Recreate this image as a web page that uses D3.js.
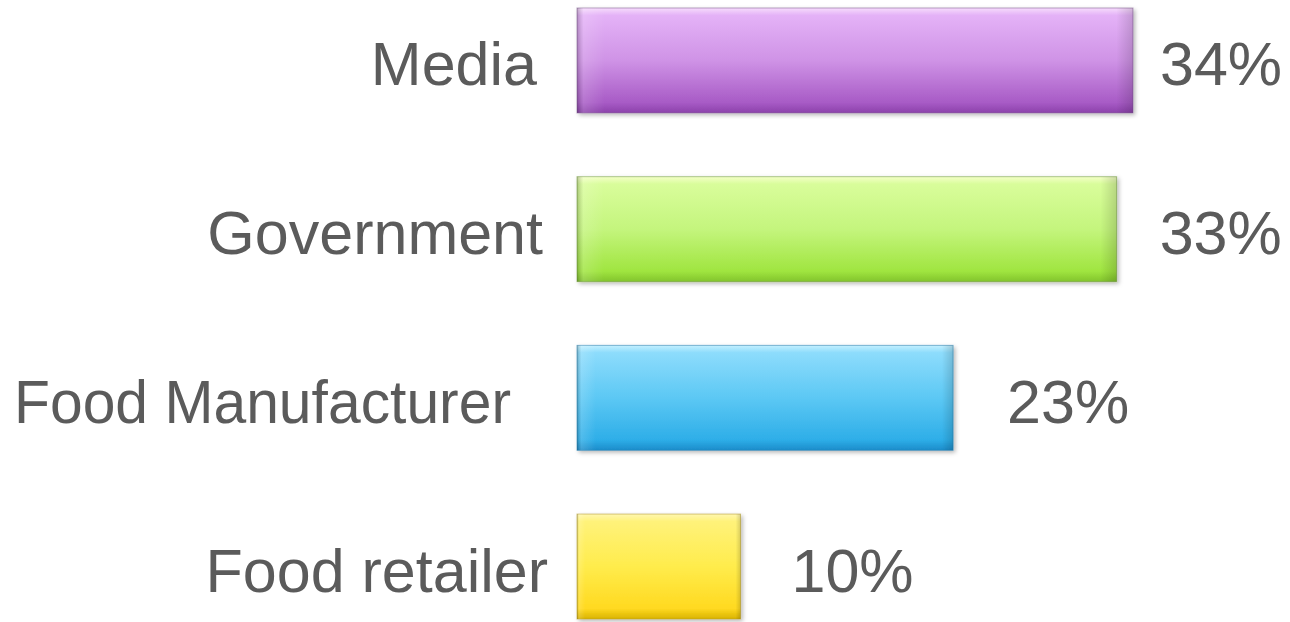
<!DOCTYPE html>
<html>
<head>
<meta charset="utf-8">
<script src="https://cdn.jsdelivr.net/npm/d3@7"></script>
<style>
  html, body { margin: 0; padding: 0; background: #ffffff; }
  svg { display: block; }
</style>
</head>
<body>
<svg id="chart" width="1290" height="622"></svg>
<script>
// Share of respondents by source
const categories = ["Media", "Government", "Food Manufacturer", "Food retailer"];
const values = [34, 33, 23, 10];
const valueLabels = ["34%", "33%", "23%", "10%"];

// Gradient stops per bar (top highlight → bottom shade)
const palettes = [
  ["#f6dcfc", "#e4b2f7", "#cf93e6", "#a85bc6", "#8c42ab"],
  ["#f4ffc8", "#d9fd9b", "#c4f57d", "#a0e540", "#82c42c"],
  ["#c4f0ff", "#8ddcfc", "#5cc8f4", "#2eaee8", "#1c8cca"],
  ["#fff7b0", "#fff27a", "#ffec4c", "#ffd920", "#d9b300"]
];
const edgeColors = ["#7d5a8e", "#6f9a3a", "#2a7fae", "#b39a2a"];

// Label placement (layout only)
const catLabelRight = [537, 543, 511, 548];
const catLabelFit = [0, 0, 497, 0];      // squeeze a label into this width when set
const valueLabelGap = [27, 43, 54, 51];

const svg = d3.select("#chart");
const defs = svg.append("defs");

const shadow = defs.append("filter").attr("id", "shadow")
  .attr("x", "-5%").attr("y", "-10%").attr("width", "115%").attr("height", "130%");
shadow.append("feDropShadow")
  .attr("dx", 2).attr("dy", 2).attr("stdDeviation", 2.2)
  .attr("flood-color", "#000").attr("flood-opacity", 0.28);

palettes.forEach((p, i) => {
  const g = defs.append("linearGradient").attr("id", "grad" + i)
    .attr("x1", 0).attr("y1", 0).attr("x2", 0).attr("y2", 1);
  const offs = [0, 0.07, 0.5, 0.9, 1];
  p.forEach((c, j) => g.append("stop").attr("offset", offs[j]).attr("stop-color", c));
  // side shading
  const h = defs.append("linearGradient").attr("id", "side" + i)
    .attr("x1", 0).attr("y1", 0).attr("x2", 1).attr("y2", 0);
  h.append("stop").attr("offset", 0).attr("stop-color", "#000").attr("stop-opacity", 0.22);
  h.append("stop").attr("offset", 0.012).attr("stop-color", "#fff").attr("stop-opacity", 0.15);
  h.append("stop").attr("offset", 0.05).attr("stop-color", "#fff").attr("stop-opacity", 0);
  h.append("stop").attr("offset", 0.97).attr("stop-color", "#000").attr("stop-opacity", 0);
  h.append("stop").attr("offset", 1).attr("stop-color", "#000").attr("stop-opacity", 0.15);
});

const x = d3.scaleLinear().domain([0, 34]).range([577, 1133]);
const y = d3.scaleBand().domain(categories).range([8, 619]).paddingInner(0.378).paddingOuter(0);

const rows = categories.map((c, i) => ({ c, v: values[i], label: valueLabels[i], i }));

const bars = svg.append("g").selectAll("g").data(rows).join("g");

bars.append("rect")
  .attr("x", x(0))
  .attr("y", d => y(d.c))
  .attr("width", d => x(d.v) - x(0))
  .attr("height", y.bandwidth())
  .attr("fill", d => `url(#grad${d.i})`)
  .attr("stroke", d => edgeColors[d.i])
  .attr("stroke-opacity", 0.55)
  .attr("stroke-width", 1)
  .attr("filter", "url(#shadow)");

bars.append("rect")
  .attr("x", x(0))
  .attr("y", d => y(d.c))
  .attr("width", d => x(d.v) - x(0))
  .attr("height", y.bandwidth())
  .attr("fill", d => `url(#side${d.i})`);

const font = "'Liberation Sans', Arial, sans-serif";

svg.append("g").selectAll("text").data(rows).join("text")
  .attr("x", d => catLabelRight[d.i])
  .attr("y", d => y(d.c) + y.bandwidth() / 2 + 25)
  .attr("text-anchor", "end")
  .attr("font-family", font)
  .attr("font-size", 61)
  .attr("fill", "#5b5b5b")
  .text(d => d.c)
  .each(function (d) {
    if (catLabelFit[d.i]) {
      d3.select(this)
        .attr("textLength", catLabelFit[d.i])
        .attr("lengthAdjust", "spacingAndGlyphs");
    }
  });

svg.append("g").selectAll("text").data(rows).join("text")
  .attr("x", d => x(d.v) + valueLabelGap[d.i])
  .attr("y", d => y(d.c) + y.bandwidth() / 2 + 25)
  .attr("text-anchor", "start")
  .attr("font-family", font)
  .attr("font-size", 61)
  .attr("fill", "#5b5b5b")
  .text(d => d.label);
</script>
</body>
</html>
